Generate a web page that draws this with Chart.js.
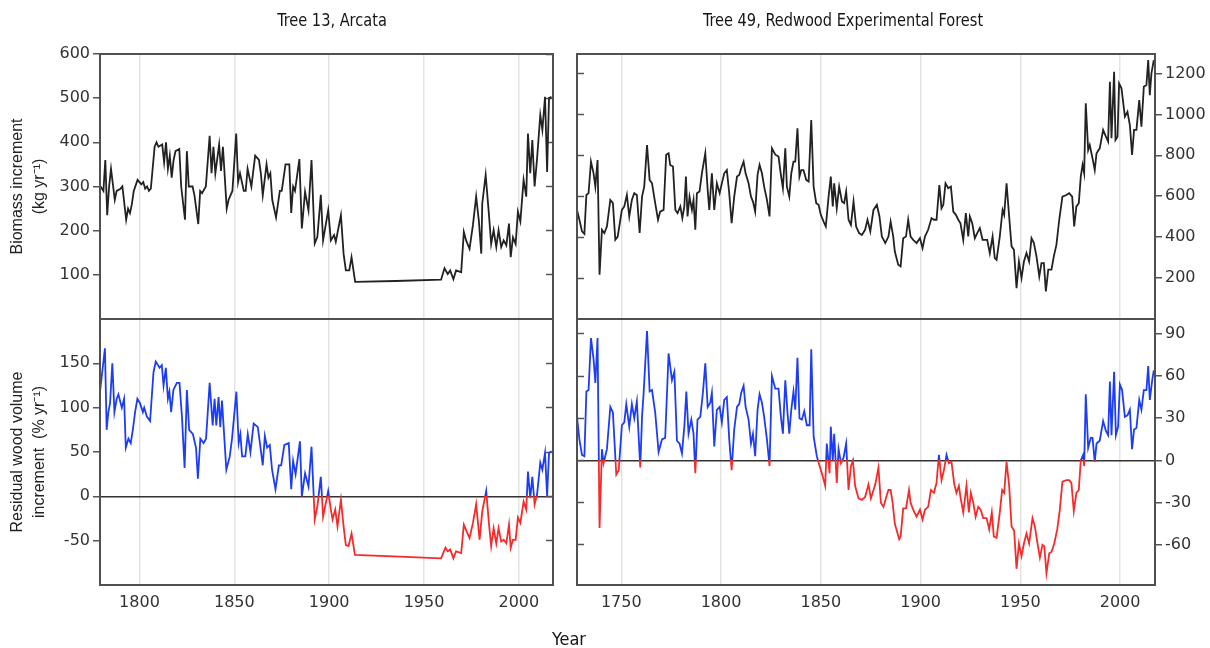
<!DOCTYPE html>
<html>
<head>
<meta charset="utf-8">
<script src="https://cdn.jsdelivr.net/npm/chart.js@4.4.1/dist/chart.umd.min.js"></script>
<style>
  html, body { margin: 0; padding: 0; background: #fff; }
  #wrap { position: relative; width: 1210px; height: 648px; overflow: hidden; }
  .panel { position: absolute; }
  .cond {
    position: absolute; width: 400px; text-align: center; line-height: 20px;
    font: 18px 'Liberation Sans Narrow', 'DejaVu Sans Condensed', 'Roboto Condensed', sans-serif;
    color: #161616; white-space: nowrap;
  }
  .squeeze { transform: scaleX(0.9); }
</style>
</head>
<body>
<div id="wrap">
  <div class="panel" style="left:0;top:0;width:565px;height:320px"><canvas id="tl"></canvas></div>
  <div class="panel" style="left:0;top:314px;width:565px;height:334px"><canvas id="bl"></canvas></div>
  <div class="panel" style="left:565px;top:0;width:645px;height:320px"><canvas id="tr"></canvas></div>
  <div class="panel" style="left:565px;top:314px;width:645px;height:334px"><canvas id="br"></canvas></div>
  <div class="cond squeeze" style="left:132px;top:9px">Tree 13, Arcata</div>
  <div class="cond squeeze" style="left:643px;top:9px">Tree 49, Redwood Experimental Forest</div>
  <div class="cond" style="left:369px;top:628px">Year</div>
</div>
<script>
// ---- data ----
const yearTicks = [1750, 1800, 1850, 1900, 1950, 2000];
const arcataBiomassTicks = [100, 200, 300, 400, 500, 600];
const arcataResidualTicks = [-50, 0, 50, 100, 150];
const redwoodBiomassTicks = [200, 400, 600, 800, 1000, 1200];
const redwoodResidualTicks = [-60, -30, 0, 30, 60, 90];

// Tree 13, Arcata - biomass increment (kg/yr)
const arcataBiomassYears = [
  1779.5, 1781, 1782, 1783, 1784, 1785, 1787, 1788, 1790, 1791,
  1793, 1794, 1795, 1796, 1797, 1799, 1801, 1802, 1803, 1804,
  1805, 1806, 1808, 1809, 1810, 1812, 1813, 1814, 1815, 1816,
  1817, 1818, 1819, 1821, 1822, 1824, 1825, 1826, 1828, 1829,
  1831, 1832, 1833, 1835, 1837, 1838, 1839, 1840, 1842, 1843,
  1844, 1846, 1847, 1849, 1851, 1852, 1853, 1855, 1856, 1857,
  1859, 1861, 1863, 1864, 1865, 1867, 1868, 1869, 1870, 1872,
  1874, 1875, 1877, 1879, 1880, 1881, 1882, 1884.3, 1885.6, 1887.3,
  1889.1, 1890.7, 1892.4, 1893.8, 1895.6, 1896.8, 1899.5, 1900.9, 1902.6, 1903.5,
  1906.2, 1907.6, 1908.8, 1910.6, 1911.8, 1913.7, 1935, 1959, 1960.8, 1962.5,
  1963.8, 1965.5, 1966.9, 1969.6, 1971, 1972.2, 1974, 1975.8, 1977.5, 1978.9,
  1980.2, 1980.7, 1982.5, 1984.2, 1985.4, 1986.7, 1988.1, 1989.3, 1990.7, 1992,
  1993.4, 1994.8, 1995.7, 1996.9, 1998.3, 1999.5, 2000.8, 2002.5, 2003.9, 2004.8,
  2006, 2007.1, 2008.3, 2009.6, 2011.3, 2012.4, 2013.8, 2014.9, 2015.9, 2017.2
];
const arcataBiomass = [
  300, 290, 360, 235, 300, 340, 270, 290, 295, 300,
  225, 250, 240, 260, 290, 315, 305, 310, 295, 300,
  290, 295, 390, 400, 390, 395, 355, 400, 340, 370,
  320, 360, 380, 385, 300, 225, 380, 300, 300, 280,
  215, 290, 285, 300, 415, 330, 390, 330, 395, 335,
  390, 250, 270, 290, 420, 310, 330, 290, 290, 340,
  300, 370, 360, 330, 280, 350, 320, 330, 270, 230,
  290, 290, 350, 350, 240, 300, 290, 362, 205, 288,
  246, 360, 171, 186, 281, 178, 246, 178, 190, 175,
  235, 148, 110, 110, 140, 84, 86, 89, 115, 102,
  110, 90, 110, 106, 197, 178, 159, 213, 277, 223,
  148, 261, 326, 238, 170, 201, 163, 201, 163, 178,
  167, 216, 140, 185, 170, 243, 221, 315, 277, 420,
  330, 405, 300, 363, 462, 428, 503, 333, 500, 503
];

// Tree 13, Arcata - residual wood volume increment (%/yr)
const arcataResidualYears = [
  1779.2, 1781.8, 1782.7, 1783.6, 1784.5, 1785.7, 1786.8, 1788, 1788.9, 1790.7,
  1791.9, 1792.8, 1794.2, 1795.4, 1796.5, 1797.7, 1798.9, 1800.3, 1801.8, 1802.5,
  1803.9, 1805.6, 1807.4, 1808.6, 1810.6, 1811.8, 1812.7, 1813.9, 1815, 1815.8,
  1816.7, 1817.9, 1819.7, 1821.1, 1822.4, 1823.8, 1825, 1826.2, 1828.2, 1829.8,
  1830.8, 1832.1, 1833.8, 1835.1, 1837, 1838.6, 1839.6, 1840.5, 1841.7, 1842.6,
  1843.5, 1845.8, 1847.6, 1848.8, 1851.1, 1852.3, 1853.2, 1854.1, 1855.8, 1857.1,
  1858.5, 1860.2, 1862.4, 1863.8, 1865, 1866.1, 1867.3, 1868.7, 1869.9, 1871.7,
  1873.5, 1874.7, 1876.4, 1878.7, 1880, 1881, 1882.3, 1884.6, 1885.6, 1887.3,
  1889.1, 1890.7, 1892.4, 1893.8, 1895.6, 1896.8, 1899.5, 1900.9, 1901.8, 1903.2,
  1904.4, 1906.2, 1907.6, 1908.8, 1910.2, 1911.8, 1913.6, 1937, 1959, 1961.3,
  1962.5, 1963.8, 1965.5, 1966.9, 1969.6, 1971, 1972.2, 1974, 1975.8, 1977.5,
  1979.3, 1980.7, 1982.8, 1984.2, 1985.4, 1986.7, 1988.1, 1989.3, 1990.7, 1992,
  1993.4, 1994.8, 1995.7, 1996.9, 1998.3, 1999.5, 2000.8, 2002.5, 2003.9, 2004.8,
  2006, 2007.1, 2008.3, 2009.6, 2011.3, 2012.4, 2013.8, 2014.9, 2015.9, 2017.2
];
const arcataResidual = [
  118, 167, 75, 95, 105, 150, 95, 110, 115, 100,
  110, 55, 65, 60, 75, 95, 110, 105, 95, 100,
  90, 85, 140, 152, 145, 148, 125, 145, 110, 118,
  95, 120, 128, 128, 90, 32, 120, 75, 70, 55,
  20, 65, 60, 65, 128, 80, 110, 80, 112, 78,
  108, 30, 45, 65, 118, 60, 70, 45, 45, 70,
  50, 82, 78, 55, 35, 68, 55, 58, 30, 8,
  35, 35, 58, 60, 8, 40, 25, 62, 0, 26,
  11, 56, -26, -11, 22, -23, 6, -15, -26, -15,
  -34, -4, -34, -55, -56, -42, -66, -68, -70, -58,
  -62, -60, -70, -62, -64, -32, -38, -47, -30, -9,
  -49, -17, 6, -30, -56, -36, -53, -36, -51, -49,
  -53, -32, -58, -49, -49, -24, -30, -6, -15, 28,
  -2, 22, -9, 2, 38, 30, 49, 0, 49, 51
];

// Tree 49, Redwood Experimental Forest - biomass increment (kg/yr)
const redwoodBiomassYears = [
  1727.8, 1729, 1730.3, 1731.5, 1732.5, 1733.6, 1734.8, 1736.1, 1737, 1738.1,
  1739.1, 1740.3, 1741.5, 1742.8, 1744.5, 1745.8, 1747, 1748.2, 1750.3, 1751.5,
  1752.8, 1754, 1755.3, 1756.5, 1757.8, 1759.2, 1760.4, 1761.5, 1762.9, 1764.2,
  1765.4, 1767, 1768.4, 1769.5, 1771.2, 1772.5, 1773.7, 1774.5, 1775.9, 1777.1,
  1778.2, 1779.6, 1780.6, 1781.6, 1782.4, 1783.2, 1784.2, 1785.4, 1786.2, 1787.1,
  1787.9, 1789.2, 1790.4, 1792.1, 1793.3, 1794.1, 1795.4, 1796.6, 1797.9, 1799.3,
  1800.4, 1801.6, 1802.9, 1804.1, 1805.3, 1806.6, 1808, 1809.1, 1810.1, 1811.3,
  1812.3, 1813.8, 1815, 1816, 1817.1, 1818.3, 1819.3, 1820.5, 1821.6, 1823,
  1824.3, 1825.5, 1827.2, 1828.8, 1830, 1831, 1832.2, 1833, 1834.2, 1835.2,
  1836.3, 1837.2, 1838.3, 1839.3, 1840.2, 1841.3, 1842.7, 1843.9, 1845.2, 1846.4,
  1847.7, 1848.9, 1850, 1851.4, 1852.5, 1853.9, 1855, 1856, 1856.7, 1858,
  1859.2, 1860.6, 1861.7, 1862.7, 1863.9, 1865.1, 1866.4, 1867.7, 1869.2, 1870.6,
  1872.2, 1873.4, 1874.8, 1876.4, 1878.1, 1879.4, 1880.6, 1882.3, 1883.9, 1885,
  1886.3, 1887.1, 1888.8, 1890, 1891.3, 1892.7, 1893.8, 1895, 1896.3, 1898,
  1899.7, 1901, 1902.2, 1903.8, 1905.5, 1906.7, 1908, 1909.4, 1910.5, 1911.4,
  1912.5, 1913.9, 1915.2, 1916.4, 1917.7, 1918.9, 1920, 1921.4, 1922.7, 1923.9,
  1924.7, 1925.9, 1927.2, 1928.4, 1929.7, 1931.1, 1932.2, 1933.4, 1934.7, 1936.1,
  1937.2, 1938.1, 1939.7, 1941.1, 1941.9, 1943.1, 1944.4, 1945.6, 1946.8, 1948.1,
  1949.3, 1950.6, 1951.8, 1953.1, 1954.4, 1955.6, 1956.8, 1958.1, 1959.5, 1960.6,
  1961.8, 1962.8, 1964, 1965.6, 1966.8, 1968.1, 1969.5, 1971.1, 1973.1, 1974.5,
  1976, 1977, 1978.1, 1979.3, 1980.3, 1981.2, 1982, 1982.8, 1984, 1984.8,
  1986.2, 1987.3, 1988.2, 1989.8, 1991.5, 1992.9, 1994, 1994.9, 1995.7, 1997,
  1997.7, 1998.7, 1999.5, 2000.7, 2002.4, 2003.7, 2004.9, 2006, 2007, 2008.2,
  2009.6, 2010.7, 2011.9, 2013.2, 2014.1, 2014.9, 2015.7, 2016.9
];
const redwoodBiomass = [
  533, 485, 428, 416, 606, 615, 769, 712, 647, 777,
  216, 436, 420, 452, 582, 566, 387, 403, 533, 550,
  606, 501, 582, 615, 606, 420, 598, 647, 850, 680,
  663, 566, 485, 525, 533, 803, 810, 753, 745, 533,
  517, 550, 493, 550, 696, 501, 598, 533, 582, 436,
  615, 623, 712, 810, 631, 533, 712, 533, 663, 615,
  663, 712, 728, 615, 468, 598, 696, 704, 737, 769,
  712, 663, 598, 574, 525, 704, 753, 712, 647, 582,
  501, 834, 803, 794, 704, 639, 834, 647, 598, 712,
  769, 769, 932, 696, 728, 728, 680, 672, 972, 647,
  566, 558, 509, 476, 452, 598, 696, 550, 663, 541,
  647, 574, 566, 623, 485, 460, 574, 452, 420, 411,
  436, 485, 428, 533, 558, 501, 403, 371, 403, 476,
  403, 330, 265, 257, 395, 403, 485, 403, 387, 371,
  395, 346, 403, 436, 493, 485, 485, 655, 541, 558,
  663, 639, 647, 525, 509, 485, 468, 387, 517, 403,
  501, 468, 395, 420, 444, 387, 387, 387, 322, 403,
  298, 289, 403, 533, 509, 663, 501, 355, 338, 151,
  281, 200, 281, 322, 281, 395, 371, 306, 208, 273,
  273, 135, 241, 241, 306, 363, 485, 598, 606, 615,
  598, 452, 550, 566, 696, 753, 712, 1054, 826, 850,
  785, 728, 810, 834, 924, 891, 867, 1159, 883, 1208,
  875, 891, 1151, 1127, 989, 1013, 948, 802, 924, 924,
  1070, 940, 1135, 1143, 1265, 1094, 1200, 1265
];

// Tree 49, Redwood Experimental Forest - residual wood volume increment (%/yr)
const redwoodResidualYears = [
  1727.8, 1729, 1730.3, 1731.5, 1732.5, 1733.6, 1734.8, 1736.1, 1737, 1738.1,
  1739.1, 1740.3, 1741.1, 1742.8, 1744.5, 1745.8, 1747.5, 1748.7, 1750.3, 1751.5,
  1752.5, 1754, 1755.3, 1756.5, 1757.8, 1759.5, 1760.4, 1761.2, 1762.9, 1764.2,
  1765.4, 1767, 1768.7, 1770.4, 1772, 1773.7, 1775.4, 1776.6, 1777.9, 1779.2,
  1780.4, 1781.6, 1782.6, 1783.7, 1785.1, 1786.2, 1787.1, 1788.2, 1789.6, 1790.9,
  1792.1, 1793.3, 1794.6, 1795.4, 1796.6, 1797.9, 1799.3, 1800.4, 1801.6, 1802.9,
  1804.1, 1805.3, 1806.6, 1808, 1809.1, 1810.1, 1811.3, 1812.3, 1813.8, 1815,
  1816, 1817.1, 1818.3, 1819.3, 1820.5, 1821.6, 1823, 1824.3, 1825.5, 1827.2,
  1828.8, 1830, 1831, 1832.2, 1833.3, 1834.2, 1835.2, 1836.3, 1837.2, 1838.3,
  1839.3, 1840.5, 1841.7, 1843, 1844.4, 1845.2, 1846.4, 1848, 1849.4, 1850.5,
  1852.2, 1853, 1854.4, 1855, 1856, 1856.7, 1858, 1858.9, 1860.1, 1861.4,
  1862.7, 1863.9, 1865.1, 1866.1, 1867.2, 1868.9, 1870.6, 1872.2, 1873.9, 1875.1,
  1877.3, 1878.9, 1880.1, 1881.4, 1882.8, 1883.9, 1885, 1886, 1887.1, 1889.3,
  1890, 1891.3, 1892.7, 1894.2, 1895, 1896.3, 1898, 1899.7, 1901, 1902.2,
  1903.8, 1905.2, 1906.7, 1908, 1909.2, 1910.5, 1911.7, 1913, 1914.2, 1915.5,
  1916.9, 1918, 1919.2, 1920, 1921.4, 1923, 1924.2, 1925.2, 1926.4, 1927.6,
  1928.9, 1930.1, 1931.4, 1933.1, 1934.4, 1935.7, 1936.7, 1938.1, 1939.7, 1940.9,
  1941.9, 1943.1, 1944.4, 1945.6, 1946.9, 1948.1, 1949.3, 1950.6, 1951.8, 1953.1,
  1954.4, 1956.1, 1957.3, 1958.6, 1959.8, 1961.1, 1962, 1963.1, 1964.5, 1965.6,
  1967, 1968.5, 1969.8, 1971.1, 1973.1, 1974.5, 1975.6, 1976.8, 1978.1, 1979.3,
  1980.3, 1981.5, 1982, 1982.8, 1984, 1985.3, 1986.2, 1987.3, 1988.2, 1989.8,
  1991.5, 1992.9, 1994, 1994.9, 1995.7, 1997, 1997.9, 1999, 1999.9, 2001,
  2002.4, 2003.7, 2004.9, 2006, 2007, 2008.2, 2009.6, 2010.7, 2011.9, 2013.2,
  2014.1, 2014.9, 2016.1, 2016.9
];
const redwoodResidual = [
  31, 15, 4, 3, 49, 50, 87, 72, 55, 87,
  -48, 8, -2, 8, 38, 34, -10, -7, 25, 27,
  40, 24, 40, 30, 42, -5, 31, 48, 92, 49,
  50, 34, 6, 15, 16, 76, 57, 63, 14, 12,
  5, 24, 49, 19, 29, 19, -9, 29, 31, 48,
  69, 38, 41, 48, 10, 36, 38, 27, 43, 45,
  15, -7, 22, 38, 40, 48, 53, 38, 29, 12,
  19, 3, 36, 47, 41, 31, 15, -4, 60, 51,
  51, 31, 19, 57, 34, 19, 36, 49, 36, 73,
  30, 29, 35, 25, 25, 79, 17, 3, -4, -9,
  -18, 12, -9, 24, 0, 19, -16, 8, -2, 2,
  12, -21, -4, 0, -18, -27, -28, -26, -17, -27,
  -17, -5, -30, -33, -26, -21, -21, -30, -45, -56,
  -54, -34, -34, -21, -30, -35, -40, -35, -42, -35,
  -33, -21, -23, -16, 4, -14, -7, 4, -2, -1,
  -17, -23, -18, -26, -37, -18, -37, -23, -30, -40,
  -33, -35, -41, -41, -49, -37, -54, -55, -37, -21,
  -23, -1, -18, -47, -50, -77, -59, -68, -59, -52,
  -59, -41, -47, -59, -69, -60, -61, -80, -66, -65,
  -59, -49, -35, -15, -14, -14, -16, -36, -23, -21,
  0, 4, -4, 47, 9, 16, 16, -1, 12, 14,
  28, 21, 18, 56, 18, 63, 18, 24, 54, 50,
  31, 32, 36, 8, 22, 23, 43, 36, 50, 50,
  67, 43, 57, 64
];

// ---- styles ----
const tickFont = { family: "'DejaVu Sans', sans-serif", size: 16 };
const titleFont = { family: "'Liberation Sans', Arial, sans-serif", size: 16, lineHeight: 1.375 };
const BLUE = "#1d3cf5";
const RED = "#f52a2a";

function pts(xs, ys) {
  return xs.map((x, i) => ({ x: x, y: ys[i] }));
}

// dark box round the plot area
const framePlugin = {
  id: "frame",
  afterDatasetsDraw(chart) {
    const { ctx, chartArea: a } = chart;
    ctx.save();
    ctx.strokeStyle = "#505050";
    ctx.lineWidth = 2;
    ctx.strokeRect(a.left, a.top, a.right - a.left, a.bottom - a.top);
    ctx.restore();
  },
};

// blue above zero, red below
function signColor(context) {
  const chart = context.chart;
  const a = chart.chartArea;
  if (!a) return BLUE;
  const z = chart.scales.y.getPixelForValue(0);
  const s = Math.min(Math.max((z - a.top) / (a.bottom - a.top), 0), 1);
  const g = chart.ctx.createLinearGradient(0, a.top, 0, a.bottom);
  g.addColorStop(0, BLUE);
  g.addColorStop(s, BLUE);
  g.addColorStop(s, RED);
  g.addColorStop(1, RED);
  return g;
}

function makePanel(id, cfg) {
  const side = cfg.side; // where the labelled y axis sits
  const other = side === "left" ? "right" : "left";
  const setTicks = (list) => (s) => { s.ticks = list.map((v) => ({ value: v })); };

  const scales = {
    x: {
      type: "linear",
      min: cfg.xMin,
      max: cfg.xMax,
      afterBuildTicks: setTicks(yearTicks.filter((v) => v > cfg.xMin && v < cfg.xMax)),
      afterFit: (s) => { s.height = cfg.xHeight; },
      border: { display: false },
      grid: { color: "#e3e3e3", lineWidth: 1.5, drawTicks: false },
      ticks: {
        display: cfg.xLabels,
        padding: 8,
        color: "#333",
        font: tickFont,
        callback: (v) => String(v),
      },
    },
    y: {
      position: side,
      min: cfg.yMin,
      max: cfg.yMax,
      afterBuildTicks: setTicks(cfg.yTicks),
      afterFit: (s) => {
        s.width = cfg.yWidth;
        s.paddingTop = 0;      // labels are not at the ends, no extra room needed
        s.paddingBottom = 0;
      },
      border: { display: false },
      grid: {
        drawOnChartArea: cfg.zeroLine,
        color: (c) => (c.tick && c.tick.value === 0 ? "#333" : "rgba(0,0,0,0)"),
        lineWidth: 1.5,
        tickLength: 7,
        tickColor: "#555",
        tickWidth: 1.5,
      },
      ticks: { padding: 3, color: "#333", font: tickFont, callback: (v) => String(v) },
      title: {
        display: !!cfg.yTitle,
        text: cfg.yTitle || "",
        color: "#222",
        font: titleFont,
        padding: { top: 7, bottom: 0 },
      },
    },
    y2: {
      position: other,
      min: cfg.yMin,
      max: cfg.yMax,
      afterBuildTicks: setTicks(cfg.yTicks),
      afterFit: (s) => { s.width = 0; s.paddingTop = 0; s.paddingBottom = 0; },
      border: { display: false },
      grid: { drawOnChartArea: false, tickLength: -7, tickColor: "#555", tickWidth: 1.5 },
      ticks: { display: false },
    },
  };

  return new Chart(document.getElementById(id), {
    type: "line",
    data: {
      datasets: [{
        data: pts(cfg.years, cfg.values),
        borderColor: cfg.signed ? signColor : "#222",
        borderWidth: 1.8,
        pointRadius: 0,
        tension: 0,
      }],
    },
    options: {
      responsive: true,
      maintainAspectRatio: false,
      animation: false,
      events: [],
      layout: { padding: cfg.padding, autoPadding: false },
      scales: scales,
      plugins: {
        legend: { display: false },
        tooltip: { enabled: false },
      },
    },
    plugins: [framePlugin],
  });
}

makePanel("tl", {
  side: "left",
  years: arcataBiomassYears, values: arcataBiomass,
  xMin: 1779.2, xMax: 2018, xLabels: false, xHeight: 0,
  yMin: 0, yMax: 600, yTicks: arcataBiomassTicks, yWidth: 100,
  yTitle: ["Biomass increment", "(kg yr\u207B\u00B9)"],
  zeroLine: false, signed: false,
  padding: { left: 0, right: 12, top: 54, bottom: 1 },
});

makePanel("bl", {
  side: "left",
  years: arcataResidualYears, values: arcataResidual,
  xMin: 1779.2, xMax: 2018, xLabels: true, xHeight: 63,
  yMin: -100, yMax: 200, yTicks: arcataResidualTicks, yWidth: 100,
  yTitle: ["Residual wood volume", "increment  (% yr\u207B\u00B9)"],
  zeroLine: true, signed: true,
  padding: { left: 0, right: 12, top: 5, bottom: 0 },
});

makePanel("tr", {
  side: "right",
  years: redwoodBiomassYears, values: redwoodBiomass,
  xMin: 1727.8, xMax: 2017.5, xLabels: false, xHeight: 0,
  yMin: 0, yMax: 1295, yTicks: redwoodBiomassTicks, yWidth: 55,
  zeroLine: false, signed: false,
  padding: { left: 12, right: 0, top: 54, bottom: 1 },
});

makePanel("br", {
  side: "right",
  years: redwoodResidualYears, values: redwoodResidual,
  xMin: 1727.8, xMax: 2017.5, xLabels: true, xHeight: 63,
  yMin: -88.5, yMax: 100.5, yTicks: redwoodResidualTicks, yWidth: 55,
  zeroLine: true, signed: true,
  padding: { left: 12, right: 0, top: 5, bottom: 0 },
});
</script>
</body>
</html>
